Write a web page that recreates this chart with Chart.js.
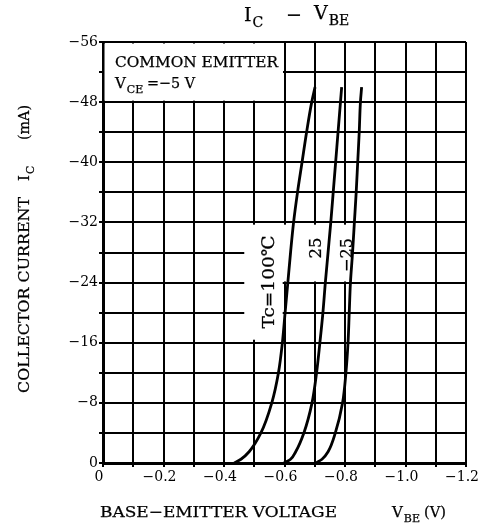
<!DOCTYPE html>
<html>
<head>
<meta charset="utf-8">
<script src="https://cdn.jsdelivr.net/npm/chart.js@4.4.1/dist/chart.umd.min.js"></script>
<style>
  html, body { margin: 0; padding: 0; background: #fff; }
  canvas { display: block; }
</style>
</head>
<body>
<canvas id="chart" width="485" height="527"></canvas>
<script>
// ============================================================
// DATA
// ============================================================

const xTicks = [0, -0.2, -0.4, -0.6, -0.8, -1.0, -1.2];
const yTicks = [0, -8, -16, -24, -32, -40, -48, -56];

const icSteps = [0, -0.5, -1.5, -4, -8, -12, -16, -20, -24, -28, -32, -36, -40, -44, -48, -50];

const vbe100 = [-0.434, -0.456, -0.483, -0.522, -0.558, -0.580, -0.593, -0.602, -0.611, -0.620, -0.630, -0.643, -0.658, -0.673, -0.690, -0.701];
const vbe25  = [-0.598, -0.620, -0.637, -0.664, -0.691, -0.706, -0.717, -0.727, -0.735, -0.744, -0.753, -0.761, -0.769, -0.777, -0.785, -0.789];
const vbeM25 = [-0.704, -0.724, -0.744, -0.768, -0.792, -0.803, -0.810, -0.814, -0.818, -0.825, -0.831, -0.837, -0.842, -0.847, -0.851, -0.855];

// ============================================================
// HELPERS
// ============================================================

const FONT = '"DejaVu Serif", serif';

function pts(xs, ys) {
  return xs.map((x, i) => ({ x, y: ys[i] }));
}

function minusLabel(v, digits) {
  if (Math.abs(v) < 1e-9) return '0';
  return '\u2212' + Math.abs(v).toFixed(digits);
}

// text drawn a little heavier, like the printed sheet
function ink(ctx, str, x, y) {
  ctx.fillText(str, x, y);
  ctx.strokeText(str, x, y);
}

// draw text squeezed/stretched to a given width
function fitText(ctx, str, x, y, w) {
  const m = ctx.measureText(str).width;
  ctx.save();
  ctx.translate(x, y);
  ctx.scale(w / m, 1);
  ink(ctx, str, 0, 0);
  ctx.restore();
}

// main text + subscript, left aligned at baseline
function withSub(ctx, main, sub, x, y, size) {
  ctx.font = `${size}px ${FONT}`;
  ink(ctx, main, x, y);
  const w = ctx.measureText(main).width;
  ctx.font = `${Math.round(size * 0.75)}px ${FONT}`;
  ink(ctx, sub, x + w + 1, y + size * 0.3);
}

// blank out the grid behind the printed labels
const gridMask = {
  id: 'gridMask',
  beforeDatasetsDraw(chart) {
    const { ctx, scales: { x, y } } = chart;
    const box = (x0, x1, y0, y1) => {
      const l = x.getPixelForValue(x0), r = x.getPixelForValue(x1);
      const t = y.getPixelForValue(y0), b = y.getPixelForValue(y1);
      ctx.fillRect(Math.min(l, r), Math.min(t, b), Math.abs(r - l), Math.abs(b - t));
    };
    ctx.save();
    ctx.fillStyle = '#fff';
    box(-0.005, -0.595, -55.8, -48.2);     // COMMON EMITTER block
    box(-0.467, -0.822, -31.7, -24.15);    // curve label band
    box(-0.467, -0.594, -24.3, -16.4);     // Tc=100 label tail
    ctx.restore();
  }
};

const annotations = {
  id: 'annotations',
  afterDraw(chart) {
    const ctx = chart.ctx;
    ctx.save();
    ctx.fillStyle = '#000';
    ctx.strokeStyle = '#000';
    ctx.lineWidth = 0.25;
    ctx.textBaseline = 'alphabetic';
    ctx.textAlign = 'left';

    // title  IC - VBE
    withSub(ctx, 'I', 'C', 244, 21, 19);
    ctx.font = `19px ${FONT}`;
    ink(ctx, '\u2212', 286, 21);
    withSub(ctx, 'V', 'BE', 314, 19, 19);

    // condition block
    ctx.font = `15px ${FONT}`;
    fitText(ctx, 'COMMON EMITTER', 115, 67, 163);
    withSub(ctx, 'V', 'CE', 115, 88, 15);
    ctx.font = `15px ${FONT}`;
    fitText(ctx, '=\u22125 V', 147, 88, 48);

    // x axis title
    ctx.font = `15px ${FONT}`;
    fitText(ctx, 'BASE\u2212EMITTER VOLTAGE', 100, 517, 237);
    withSub(ctx, 'V', 'BE', 392, 517, 15);
    ctx.font = `15px ${FONT}`;
    fitText(ctx, '(V)', 424, 517, 22);

    // y axis title (rotated)
    ctx.save();
    ctx.translate(29, 393);
    ctx.rotate(-Math.PI / 2);
    ctx.font = `15px ${FONT}`;
    fitText(ctx, 'COLLECTOR CURRENT', 0, 0, 196);
    withSub(ctx, 'I', 'C', 212, 0, 15);
    ctx.font = `15px ${FONT}`;
    fitText(ctx, '(mA)', 253, 0, 35);
    ctx.restore();

    // curve labels (rotated)
    const rot = (str, cx, cy, w, size) => {
      ctx.save();
      ctx.translate(cx, cy);
      ctx.rotate(-Math.PI / 2);
      ctx.font = `${size}px ${FONT}`;
      ctx.textBaseline = 'middle';
      fitText(ctx, str, -w / 2, 0, w);
      ctx.restore();
    };
    rot('Tc=100\u2103', 270, 282, 93, 17);
    rot('25', 317, 248, 21, 17);
    rot('\u221225', 348, 255, 34, 17);

    ctx.restore();
  }
};

// ============================================================
// CHART
// ============================================================

const curveStyle = {
  borderColor: '#000',
  borderWidth: 2.8,
  pointRadius: 0,
  fill: false,
  indexAxis: 'y',
  cubicInterpolationMode: 'monotone'
};

new Chart(document.getElementById('chart').getContext('2d'), {
  type: 'line',
  data: {
    datasets: [
      { label: 'Tc=100', data: pts(vbe100, icSteps), ...curveStyle },
      { label: 'Tc=25', data: pts(vbe25, icSteps), ...curveStyle },
      { label: 'Tc=-25', data: pts(vbeM25, icSteps), ...curveStyle }
    ]
  },
  options: {
    indexAxis: 'y',
    responsive: false,
    animation: false,
    devicePixelRatio: 1,
    layout: { padding: { top: 42, right: 17, left: 0, bottom: 0 } },
    plugins: {
      legend: { display: false },
      title: { display: false },
      tooltip: { enabled: false }
    },
    scales: {
      x: {
        type: 'linear',
        position: 'bottom',
        min: -1.2,
        max: 0,
        reverse: true,
        afterFit: s => { s.height = 64; },
        afterBuildTicks: s => {
          s.ticks = [];
          for (let i = 0; i <= 12; i++) s.ticks.push({ value: -i / 10 });
        },
        ticks: {
          autoSkip: false,
          maxRotation: 0,
          padding: 2,
          labelOffset: -4,
          color: '#000',
          font: { family: FONT, size: 14 },
          callback: v => xTicks.some(t => Math.abs(t - v) < 1e-6) ? minusLabel(v, 1) : ''
        },
        grid: { color: '#000', lineWidth: 2, tickLength: 4 },
        border: { color: '#000', width: 3 }
      },
      y: {
        type: 'linear',
        position: 'left',
        min: -56,
        max: 0,
        reverse: true,
        afterFit: s => { s.width = 103; },
        afterBuildTicks: s => {
          s.ticks = [];
          for (let i = 0; i <= 14; i++) s.ticks.push({ value: -i * 4 });
        },
        ticks: {
          autoSkip: false,
          padding: 1,
          color: '#000',
          font: { family: FONT, size: 14 },
          callback: v => yTicks.includes(v) ? minusLabel(v, 0) : ''
        },
        grid: { color: '#000', lineWidth: 2, tickLength: 4 },
        border: { color: '#000', width: 3 }
      }
    }
  },
  plugins: [gridMask, annotations]
});
</script>
</body>
</html>
